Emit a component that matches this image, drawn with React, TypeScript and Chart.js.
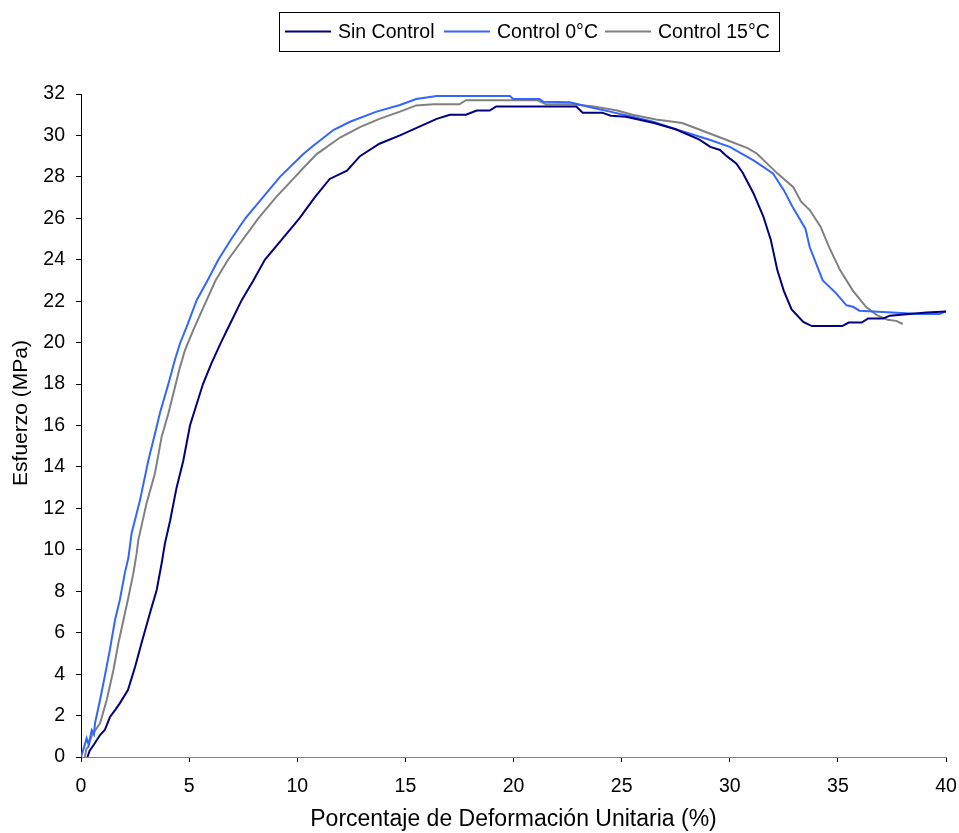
import React, { useEffect, useRef } from "react";
import { Chart, registerables } from "chart.js";

Chart.register(...registerables);

const xTicksMin = 0;
const xTicksMax = 40;
const xStep = 5;
const yTicksMin = 0;
const yTicksMax = 32;
const yStep = 2;

const seriesLabels = ["Sin Control", "Control 0°C", "Control 15°C"];
const seriesColors = ["#000080", "#3366FF", "#808080"];

const sinControlX = [0.3, 0.4, 0.6, 0.88, 1.1, 1.34, 1.6, 1.8, 2.17, 2.5, 2.8, 3.19, 3.5, 3.73, 3.88, 4.12, 4.42, 4.73, 5.04, 5.34, 5.64, 6.03, 6.47, 6.89, 7.43, 7.97, 8.5, 9.3, 10.1, 10.8, 11.5, 12.3, 12.9, 13.8, 14.75, 15.7, 16.45, 17.06, 17.8, 18.3, 18.9, 19.2, 22.9, 23.2, 24.1, 24.5, 25.2, 26.5, 27.5, 28.6, 29.1, 29.55, 29.86, 30.3, 30.6, 31.1, 31.55, 31.9, 32.2, 32.5, 32.86, 33.4, 33.8, 35.2, 35.5, 36.1, 36.4, 37.1, 37.4, 39.1, 40.0];
const sinControlY = [0, 0.3, 0.6, 1.06, 1.3, 1.93, 2.3, 2.6, 3.23, 4.34, 5.5, 6.95, 8.06, 9.35, 10.3, 11.4, 13.0, 14.3, 16.0, 17.0, 18.0, 19.0, 20.0, 20.9, 22.05, 23.0, 24.0, 25.0, 26.0, 27.0, 27.9, 28.3, 29.0, 29.6, 30.0, 30.45, 30.8, 31.0, 31.0, 31.2, 31.2, 31.4, 31.4, 31.1, 31.1, 30.95, 30.9, 30.6, 30.3, 29.8, 29.45, 29.3, 29.0, 28.65, 28.2, 27.2, 26.1, 24.95, 23.5, 22.5, 21.6, 21.0, 20.8, 20.8, 20.97, 20.97, 21.17, 21.17, 21.3, 21.45, 21.5];

const control0X = [0, 0.15, 0.26, 0.35, 0.5, 0.6, 0.65, 0.88, 1.1, 1.34, 1.57, 1.8, 2.03, 2.19, 2.34, 2.73, 3.11, 3.42, 3.65, 4.04, 4.35, 4.58, 4.89, 5.35, 5.85, 6.35, 6.95, 7.6, 8.4, 9.2, 10.28, 10.74, 11.67, 12.44, 13.67, 14.75, 15.5, 16.45, 19.84, 19.98, 21.2, 21.37, 22.6, 23.5, 24.46, 25.5, 26.45, 27.5, 29.1, 30.0, 31.1, 32.0, 32.5, 32.9, 33.5, 33.7, 34.3, 34.9, 35.4, 35.7, 36.0, 38.8, 39.7, 40.0];
const control0Y = [0, 0.5, 0.9, 0.6, 1.3, 1.1, 1.64, 2.75, 3.9, 5.2, 6.6, 7.6, 8.9, 9.6, 10.8, 12.4, 14.3, 15.6, 16.6, 18.0, 19.2, 19.97, 20.77, 22.05, 23.0, 24.0, 25.0, 26.0, 27.0, 28.0, 29.1, 29.5, 30.26, 30.66, 31.15, 31.47, 31.76, 31.9, 31.9, 31.76, 31.76, 31.63, 31.6, 31.37, 31.15, 30.9, 30.66, 30.3, 29.78, 29.45, 28.8, 28.17, 27.36, 26.56, 25.5, 24.6, 23.0, 22.4, 21.8, 21.73, 21.54, 21.38, 21.38, 21.5];

const control15X = [0.18, 0.25, 0.34, 0.45, 0.57, 0.88, 1.19, 1.5, 1.73, 1.96, 2.19, 2.42, 2.57, 2.65, 3.03, 3.42, 3.73, 4.04, 4.35, 4.58, 4.81, 5.19, 5.66, 6.22, 6.8, 7.5, 8.2, 9.0, 9.9, 10.3, 10.9, 11.98, 12.9, 13.8, 14.75, 15.5, 16.3, 17.5, 17.8, 21.1, 21.5, 22.8, 23.7, 24.8, 25.5, 26.6, 27.8, 28.8, 29.86, 30.8, 31.25, 32.2, 32.94, 33.3, 33.7, 34.2, 34.6, 35.1, 35.7, 36.3, 36.8, 37.3, 37.7, 38.0];
const control15Y = [0, 0.4, 0.5, 0.9, 1.15, 1.63, 2.75, 4.2, 5.5, 6.6, 7.7, 8.86, 9.8, 10.47, 12.24, 13.7, 15.46, 16.58, 17.87, 18.83, 19.64, 20.6, 21.7, 23.0, 24.0, 25.0, 26.0, 27.0, 28.0, 28.45, 29.1, 29.9, 30.4, 30.8, 31.15, 31.45, 31.5, 31.5, 31.7, 31.7, 31.5, 31.5, 31.4, 31.2, 31.0, 30.77, 30.6, 30.2, 29.78, 29.4, 29.13, 28.17, 27.5, 26.8, 26.4, 25.6, 24.6, 23.5, 22.5, 21.73, 21.33, 21.1, 21.05, 20.9];

const xTitle = "Porcentaje de Deformación Unitaria (%)";
const yTitle = "Esfuerzo (MPa)";

const FONT = "'Liberation Sans', Arial, sans-serif";
const FONT_SIZE = 19.5;
const X_TITLE_SIZE = 23;
const Y_TITLE_SIZE = 21;

function pairs(xs: number[], ys: number[]) {
  return xs.map((x, i) => ({ x, y: ys[i] }));
}

const boxedLegend = {
  id: "boxedLegend",
  afterDraw(chart: any) {
    const ctx = chart.ctx;
    ctx.save();
    ctx.strokeStyle = "#000";
    ctx.lineWidth = 1;
    ctx.strokeRect(279.5, 12.5, 500, 39);
    ctx.font = `${FONT_SIZE}px ${FONT}`;
    ctx.textBaseline = "middle";
    ctx.fillStyle = "#000";
    const lineStarts = [285, 444, 605];
    const midY = 31.5;
    chart.data.datasets.forEach((ds: any, i: number) => {
      const x0 = lineStarts[i];
      ctx.strokeStyle = ds.borderColor;
      ctx.lineWidth = 2;
      ctx.beginPath();
      ctx.moveTo(x0, midY);
      ctx.lineTo(x0 + 46, midY);
      ctx.stroke();
      ctx.fillText(ds.label, x0 + 53, midY + 1);
    });
    ctx.restore();
    // y axis title
    ctx.save();
    ctx.translate(21, 413);
    ctx.rotate(-Math.PI / 2);
    ctx.font = `${Y_TITLE_SIZE}px ${FONT}`;
    ctx.textAlign = "center";
    ctx.textBaseline = "middle";
    ctx.fillStyle = "#000";
    ctx.fillText(yTitle, 0, 0);
    ctx.restore();
  },
};

export default function App() {
  const ref = useRef<HTMLCanvasElement | null>(null);
  useEffect(() => {
    if (!ref.current) return;
    const datasets = [
      pairs(sinControlX, sinControlY),
      pairs(control0X, control0Y),
      pairs(control15X, control15Y),
    ].map((data, i) => ({
      label: seriesLabels[i],
      data,
      borderColor: seriesColors[i],
      backgroundColor: seriesColors[i],
      borderWidth: 2,
      pointRadius: 0,
      tension: 0,
      fill: false,
    }));
    const chart = new Chart(ref.current, {
      type: "line",
      data: { datasets },
      plugins: [boxedLegend],
      options: {
        animation: false,
        responsive: false,
        maintainAspectRatio: false,
        layout: { padding: { top: 94, right: 13, left: 0, bottom: 0 } },
        plugins: {
          legend: { display: false },
          tooltip: { enabled: false },
        },
        scales: {
          x: {
            type: "linear",
            min: xTicksMin,
            max: xTicksMax,
            afterFit: (s: any) => {
              s.height = 833 - 757;
              s.paddingRight = 0;
              s.paddingLeft = 0;
            },
            ticks: {
              stepSize: xStep,
              color: "#000",
              font: { family: FONT, size: FONT_SIZE },
              padding: 13,
              maxRotation: 0,
            },
            grid: {
              display: true,
              drawOnChartArea: false,
              drawTicks: true,
              tickLength: 5,
              color: "#000",
            },
            border: { display: true, color: "#808080", width: 1 },
            title: {
              display: true,
              text: xTitle,
              color: "#000",
              font: { family: FONT, size: X_TITLE_SIZE },
              padding: { top: 2, bottom: 0 },
            },
          },
          y: {
            type: "linear",
            min: yTicksMin,
            max: yTicksMax,
            afterFit: (s: any) => {
              s.width = 81;
              s.paddingTop = 0;
              s.paddingBottom = 0;
            },
            ticks: {
              stepSize: yStep,
              color: "#000",
              font: { family: FONT, size: FONT_SIZE },
              padding: 11,
            },
            grid: {
              display: true,
              drawOnChartArea: false,
              drawTicks: true,
              tickLength: 5,
              color: "#000",
            },
            border: { display: true, color: "#000", width: 1 },
            title: { display: false, text: yTitle },
          },
        },
      },
    });
    return () => chart.destroy();
  }, []);
  return (
    <div style={{ position: "fixed", left: 0, top: 0, width: 959, height: 833, background: "#fff" }}>
      <canvas ref={ref} width={959} height={833} style={{ width: 959, height: 833 }} />
    </div>
  );
}
